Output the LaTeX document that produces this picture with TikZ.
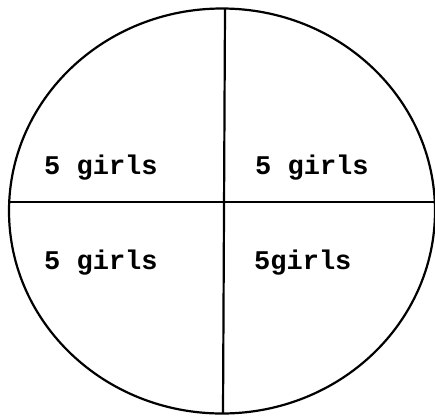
\documentclass[tikz,border=0pt]{standalone}
\usepackage{fontspec}
\newfontfamily\labelfont{Liberation Mono}
\begin{document}
\begin{tikzpicture}[x=1pt,y=-1pt,
  outline/.style={line width=2.2pt,draw=black},
  lbl/.style={anchor=base west,inner sep=0pt,font=\labelfont\bfseries\fontsize{27}{30}\selectfont}]
\useasboundingbox (0,0) rectangle (435,416);
\fill[white] (0,0) rectangle (435,416);
\draw[outline] (222,211) ellipse [x radius=213, y radius=202.5];
\coordinate (top) at (225,8.5);
\coordinate (bottom) at (223,413.5);
\coordinate (left) at (9.2,202);
\coordinate (right) at (435,202);
\draw[outline] (top) -- (bottom);
\draw[outline] (left) -- (right);
\node[lbl] (tl) at (44,174) {5 girls};
\node[lbl] (tr) at (255,174) {5 girls};
\node[lbl] (bl) at (44,269) {5 girls};
\node[lbl] (br) at (254,269) {5girls};
\end{tikzpicture}
\end{document}
